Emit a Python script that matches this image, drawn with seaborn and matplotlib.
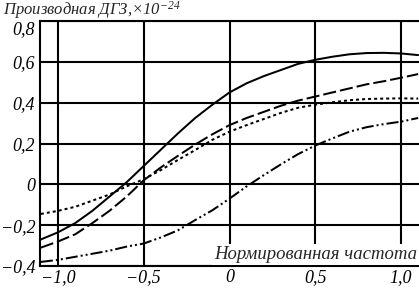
import numpy as np
import pandas as pd
import matplotlib
matplotlib.use("Agg")
import matplotlib.pyplot as plt
import matplotlib.transforms as mtransforms
import seaborn as sns

# Нормированная частота
freq = [-1.1, -1.0, -0.9, -0.8, -0.7, -0.6, -0.5, -0.4, -0.3, -0.2, -0.1, 0.0,
        0.1, 0.2, 0.3, 0.4, 0.5, 0.6, 0.7, 0.8, 0.9, 1.0, 1.1]

# Производная ДГЗ для четырёх кривых
curve_solid = [-0.27, -0.235, -0.19, -0.13, -0.06, 0.01, 0.09, 0.17, 0.25, 0.325, 0.39, 0.45,
               0.495, 0.53, 0.56, 0.59, 0.61, 0.625, 0.637, 0.643, 0.644, 0.641, 0.633]
curve_dash = [-0.31, -0.28, -0.245, -0.19, -0.13, -0.06, 0.02, 0.083, 0.14, 0.195, 0.245, 0.29,
              0.325, 0.355, 0.385, 0.41, 0.43, 0.45, 0.47, 0.49, 0.505, 0.522, 0.54]
curve_dot = [-0.145, -0.13, -0.11, -0.08, -0.05, -0.01, 0.025, 0.07, 0.12, 0.168, 0.218, 0.258,
             0.29, 0.32, 0.35, 0.375, 0.39, 0.402, 0.412, 0.418, 0.42, 0.421, 0.42]
curve_dashdot = [-0.38, -0.37, -0.355, -0.34, -0.325, -0.305, -0.29, -0.26, -0.225, -0.175, -0.127, -0.07,
                 -0.01, 0.045, 0.098, 0.148, 0.19, 0.225, 0.258, 0.28, 0.295, 0.307, 0.325]

xticks = [-1.0, -0.5, 0.0, 0.5, 1.0]
xtick_labels = ['−1,0', '−0,5', '0', '0,5', '1,0']
yticks = [-0.4, -0.2, 0.0, 0.2, 0.4, 0.6, 0.8]
ytick_labels = ['−0,4', '−0,2', '0', '0,2', '0,4', '0,6', '0,8']

df = pd.DataFrame({
    'x': freq * 4,
    'y': curve_solid + curve_dash + curve_dot + curve_dashdot,
    'curve': ['a'] * len(freq) + ['b'] * len(freq) + ['c'] * len(freq) + ['d'] * len(freq),
})

sns.set_style("white")
plt.rcParams['font.family'] = ['Liberation Serif', 'DejaVu Serif']
plt.rcParams['font.style'] = 'italic'
plt.rcParams['mathtext.fontset'] = 'custom'
plt.rcParams['mathtext.it'] = 'Liberation Serif:italic'
plt.rcParams['mathtext.rm'] = 'Liberation Serif:italic'

fig = plt.figure(figsize=(4.19, 2.89), dpi=100)
ax = fig.add_axes([40 / 419, 23 / 289, 379 / 419, 245 / 289])

sns.lineplot(data=df, x='x', y='y', style='curve', color='black', linewidth=1.45,
             dashes={'a': '', 'b': (6.5, 2), 'c': (1.5, 1.5), 'd': (6, 1.5, 1, 1.5, 1, 1.5)},
             legend=False, ax=ax, zorder=3)

ax.set_xlim(-1.105, 1.105)
ax.set_ylim(-0.4, 0.8)
ax.set_xticks(xticks)
ax.set_xticklabels(xtick_labels)
ax.set_yticks(yticks)
ax.set_yticklabels(ytick_labels)
ax.tick_params(length=0, labelsize=13, colors='black')
ax.tick_params(axis='y', pad=3.5)
ax.tick_params(axis='x', pad=2)
ax.set_xlabel('')
ax.set_ylabel('')
ax.grid(True, color='black', linewidth=1.5)
for side in ['left', 'top', 'bottom']:
    ax.spines[side].set_color('black')
    ax.spines[side].set_linewidth(1.5)
ax.spines['right'].set_visible(False)

# верхняя подпись оси Y сдвинута вниз, как в оригинале
top_lbl = ax.get_yticklabels()[-1]
top_lbl.set_transform(top_lbl.get_transform() + mtransforms.ScaledTranslation(0, -7 / 100, fig.dpi_scale_trans))

ax.text(0.995, 0.012, 'Нормированная частота', transform=ax.transAxes, ha='right', va='bottom',
        fontsize=13.5, zorder=5,
        bbox=dict(facecolor='white', edgecolor='none', pad=1.5))
fig.text(3 / 419, 1 - 10 / 289, 'Производная ДГЗ,×10$^{-24}$', ha='left', va='center', fontsize=12)

fig.savefig('out.png', dpi=100)
